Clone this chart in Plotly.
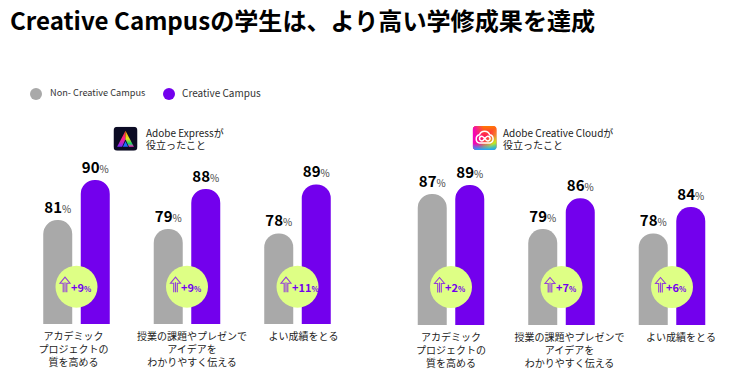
import base64
import plotly.graph_objects as go

TITLE = "Creative Campusの学生は、より高い学修成果を達成"
SERIES_NAMES = ["Non- Creative Campus", "Creative Campus"]
CATEGORIES = ["アカデミック<br>プロジェクトの<br>質を高める",
              "授業の課題やプレゼンで<br>アイデアを<br>わかりやすく伝える",
              "よい成績をとる"]
EXPRESS_NON = [81, 79, 78]
EXPRESS_CC = [90, 88, 89]
EXPRESS_LIFT = ["+9", "+9", "+11"]
CLOUD_NON = [87, 79, 78]
CLOUD_CC = [89, 86, 84]
CLOUD_LIFT = ["+2", "+7", "+6"]
HEADERS = [["Adobe Expressが", "役立ったこと"], ["Adobe Creative Cloudが", "役立ったこと"]]

W, H = 750, 377
PAGE_MARGIN = 8        # the page's own body margin shifts the figure by this much
GRAY, PURPLE, LIME, ARROW = "#a9a9a9", "#7300ed", "#deff85", "#9440d8"
FONT = "Noto Sans CJK JP"
UNIT = 110.5           # px per category


def px_x(p):
    return (p - PAGE_MARGIN) / W


def px_y(p):
    return 1 - (p - PAGE_MARGIN) / H


def pct(v):
    return f"<b>{v}</b><span style='font-size:10px;color:#444'>%</span>"


EXPRESS_SVG = """<svg xmlns='http://www.w3.org/2000/svg' viewBox='0 0 24 24'>
<defs>
<linearGradient id='l' x1='0' y1='0' x2='0' y2='1'>
<stop offset='0' stop-color='#ff3a1e'/><stop offset='.5' stop-color='#ff1e8c'/><stop offset='1' stop-color='#7a2bff'/></linearGradient>
<linearGradient id='r' x1='0' y1='0' x2='0' y2='1'>
<stop offset='0' stop-color='#ff8a00'/><stop offset='.5' stop-color='#e8e81e'/><stop offset='.8' stop-color='#19d36b'/><stop offset='1' stop-color='#ff2ac8'/></linearGradient>
</defs>
<rect width='24' height='24' rx='4' fill='#0b0b24'/>
<path d='M12 4 L3.6 20 H8.6 L12 12.5 Z' fill='url(#l)'/>
<path d='M12 4 L20.4 20 H15.4 L12 12.5 Z' fill='url(#r)'/>
<path d='M12 14.5 L14.6 20 H9.4 Z' fill='#1e6bff'/></svg>"""

CLOUD_SVG = """<svg xmlns='http://www.w3.org/2000/svg' viewBox='0 0 24 24'>
<defs>
<linearGradient id='a' x1='0' y1='0' x2='1' y2='0'>
<stop offset='0' stop-color='#f000c8'/><stop offset='.45' stop-color='#f000c8' stop-opacity='0'/></linearGradient>
<linearGradient id='b' x1='0' y1='0' x2='1' y2='1'>
<stop offset='.5' stop-color='#ffc800' stop-opacity='0'/><stop offset='.8' stop-color='#c8e61e'/><stop offset='1' stop-color='#30d87a'/></linearGradient>
<linearGradient id='d' x1='0' y1='0' x2='0' y2='1'>
<stop offset='0' stop-color='#ff7a00'/><stop offset='.4' stop-color='#ff7a00' stop-opacity='0'/></linearGradient>
<linearGradient id='e' x1='0' y1='0' x2='0' y2='1'>
<stop offset='.72' stop-color='#20b0ff' stop-opacity='0'/><stop offset='1' stop-color='#20a0ff'/></linearGradient>
<clipPath id='k'><rect width='24' height='24' rx='4'/></clipPath>
</defs>
<g clip-path='url(#k)'>
<rect width='24' height='24' fill='#ff1e56'/>
<rect width='24' height='24' fill='url(#d)'/>
<rect width='24' height='24' fill='url(#b)'/>
<rect width='24' height='24' fill='url(#a)'/>
<rect width='24' height='24' fill='url(#e)'/>
</g>
<path d='M6.8 17 A4.2 4.2 0 0 1 6.8 8.8 A5.4 5.4 0 0 1 17 8.8 A4.2 4.2 0 0 1 17.2 17 Z' fill='none' stroke='#fff' stroke-width='1.5'/>
<path d='M9.2 10.2 C11 10.2 13 15 15 15 A2.4 2.4 0 0 0 15 10.2 C13 10.2 11 15 9.2 15 A2.4 2.4 0 0 1 9.2 10.2 Z' fill='none' stroke='#fff' stroke-width='1.5'/></svg>"""


def svg_uri(s):
    return "data:image/svg+xml;base64," + base64.b64encode(s.encode()).decode()


PANELS = [
    dict(non=EXPRESS_NON, cc=EXPRESS_CC, lift=EXPRESS_LIFT, xa="x", ya="y",
         left=21.25, base_px=324.0, base_val=57.64, scale=4.45, circle_y=286.7,
         tick_off=[-3, 5, 6], header_x=146, icon_x=113.5, icon_y=126.7, svg=EXPRESS_SVG, header=HEADERS[0]),
    dict(non=CLOUD_NON, cc=CLOUD_CC, lift=CLOUD_LIFT, xa="x2", ya="y2",
         left=395.75, base_px=325.0, base_val=57.2, scale=4.4, circle_y=287.0,
         tick_off=[0, 8, 9], header_x=502.5, icon_x=472.7, icon_y=126, svg=CLOUD_SVG, header=HEADERS[1]),
]

fig = go.Figure()
shapes, annotations, images = [], [], []
layout_axes = {}

for idx, p in enumerate(PANELS):
    xs = list(range(len(CATEGORIES)))
    for name, vals, color in ((SERIES_NAMES[0], p["non"], GRAY), (SERIES_NAMES[1], p["cc"], PURPLE)):
        fig.add_trace(go.Bar(
            x=xs, y=vals, name=name, xaxis=p["xa"], yaxis=p["ya"],
            marker=dict(color=color, line_width=0, cornerradius="50%"),
            text=[pct(v) for v in vals], textposition="outside",
            textfont=dict(size=15, color="#000", family=FONT),
            cliponaxis=False, showlegend=False, hoverinfo="x+y",
        ))
    # value that maps to the badge's vertical centre on this panel's axis
    badge_val = p["base_val"] + (p["base_px"] - p["circle_y"]) / p["scale"]
    fig.add_trace(go.Scatter(
        x=xs, y=[badge_val] * len(xs), xaxis=p["xa"], yaxis=p["ya"], mode="markers",
        marker=dict(size=42, color=LIME, line_width=0),
        showlegend=False, hoverinfo="skip", cliponaxis=False,
    ))
    suffix = "" if idx == 0 else "2"
    for i, t in zip(xs, p["lift"]):
        annotations.append(dict(
            x=i, y=badge_val, xref="x" + suffix, yref="y" + suffix, xanchor="left", yanchor="middle",
            xshift=-8, showarrow=False,
            text=f"<b>{t}<span style='font-size:7.5px'>%</span></b>",
            font=dict(size=11, color=PURPLE, family=FONT),
        ))
    top_val = 100
    top_px = p["base_px"] - (top_val - p["base_val"]) * p["scale"]
    layout_axes["xaxis" + suffix] = dict(
        domain=[px_x(p["left"]), px_x(p["left"] + UNIT * 3)], range=[-0.5, 2.5], anchor="y" + suffix,
        tickmode="array", tickvals=[i + o / UNIT for i, o in zip(xs, p["tick_off"])],
        ticktext=CATEGORIES, ticks="", showgrid=False, zeroline=False, showline=False,
        tickangle=0, ticklabelstandoff=5, tickfont=dict(size=10, color="#222", family=FONT),
    )
    layout_axes["yaxis" + suffix] = dict(
        domain=[px_y(p["base_px"]), px_y(top_px)], range=[p["base_val"], top_val],
        anchor="x" + suffix, visible=False, showgrid=False, zeroline=False,
    )
    for line, ly in zip(p["header"], (132.7, 144.2)):
        annotations.append(dict(
            x=px_x(p["header_x"]), y=px_y(ly), xref="paper", yref="paper", xanchor="left",
            yanchor="middle", align="left", text=line, showarrow=False, xshift=-2,
            font=dict(size=10, color="#222", family=FONT),
        ))
    images.append(dict(
        source=svg_uri(p["svg"]), xref="paper", yref="paper", x=px_x(p["icon_x"]), y=px_y(p["icon_y"]),
        sizex=24 / W, sizey=24 / H, xanchor="left", yanchor="top", sizing="stretch", layer="above",
    ))
    # little up-arrow glyph inside each badge
    for i in xs:
        cx = p["left"] + UNIT * (i + 0.5) - 11.5
        cy = p["circle_y"] - 2
        d = (f"M{px_x(cx-1.8)},{px_y(cy+7.5)} L{px_x(cx-1.8)},{px_y(cy-1.5)} L{px_x(cx-5)},{px_y(cy-1.5)} "
             f"L{px_x(cx)},{px_y(cy-7.5)} L{px_x(cx+5)},{px_y(cy-1.5)} L{px_x(cx+1.8)},{px_y(cy-1.5)} "
             f"L{px_x(cx+1.8)},{px_y(cy+7.5)} M{px_x(cx)},{px_y(cy+7.5)} L{px_x(cx)},{px_y(cy-2.5)}")
        shapes.append(dict(type="path", xref="paper", yref="paper", path=d,
                           line=dict(color=ARROW, width=1.1), layer="above"))

# legend row: dot + label
for name, color, dot_x, text_x, size in zip(SERIES_NAMES, (GRAY, PURPLE), (36, 169), (47.5, 180), (9.2, 10)):
    r = 6
    shapes.append(dict(type="circle", xref="paper", yref="paper", fillcolor=color, line_width=0,
                       x0=px_x(dot_x - r), x1=px_x(dot_x + r), y0=px_y(94 + r), y1=px_y(94 - r)))
    annotations.append(dict(x=px_x(text_x), y=px_y(92.3), xref="paper", yref="paper", xanchor="left",
                            yanchor="middle", text=name, showarrow=False,
                            font=dict(size=size, color="#333", family=FONT)))

fig.update_layout(
    width=W, height=H, autosize=False,
    margin=dict(l=0, r=0, t=0, b=0),
    paper_bgcolor="white", plot_bgcolor="white",
    font=dict(family=FONT), showlegend=False,
    barmode="group", bargap=0.321, bargroupgap=0.227,
    title=dict(text=f"<b>{TITLE}</b>", x=2 / W, xanchor="left", y=px_y(22), yanchor="middle",
               font=dict(size=24.1, color="#000", family=FONT)),
    shapes=shapes, annotations=annotations, images=images,
    **layout_axes,
)
fig.write_html("out.html")
